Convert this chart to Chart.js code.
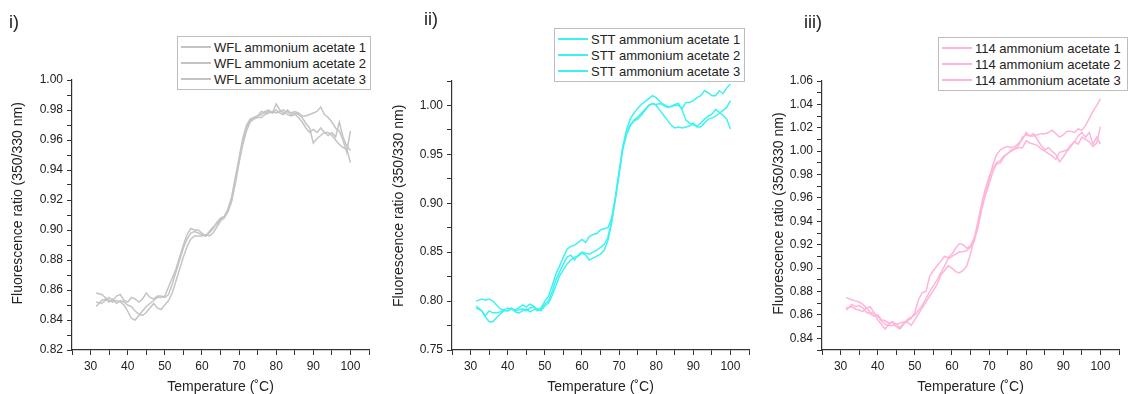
<!DOCTYPE html>
<html>
<head>
<meta charset="utf-8">
<script src="https://cdn.jsdelivr.net/npm/chart.js@4.4.0/dist/chart.umd.min.js"></script>
<style>
  body { margin: 0; width: 1136px; height: 394px; background: #fff; position: relative; overflow: hidden; font-family: "Liberation Sans", Arial, sans-serif; }
  .panel { position: absolute; top: 0; height: 394px; }
  .tag { position: absolute; font-size: 18px; color: #222; }
  .legend { position: absolute; border: 1px solid #bdbdbd; background: #fff; font-size: 13px; color: #222; padding: 2px 0; }
  .legend .row { display: flex; align-items: center; height: 16px; white-space: nowrap; }
  .legend .swatch { display: inline-block; width: 30px; height: 2px; margin: 0 3px 0 3px; }
</style>
</head>
<body>
<div class="panel" style="left:0;width:380px"><canvas id="c1" width="380" height="394"></canvas></div>
<div class="panel" style="left:380px;width:380px"><canvas id="c2" width="380" height="394"></canvas></div>
<div class="panel" style="left:760px;width:376px"><canvas id="c3" width="376" height="394"></canvas></div>

<div class="tag" style="left:9px;top:12px">i)</div>
<div class="tag" style="left:424px;top:9px">ii)</div>
<div class="tag" style="left:804px;top:12px">iii)</div>

<div class="legend" id="leg1" style="left:177px;top:36px;width:192px"></div>
<div class="legend" id="leg2" style="left:554px;top:28px;width:189px"></div>
<div class="legend" id="leg3" style="left:938px;top:37px;width:188px"></div>

<script>
// temperature (°C) shared by all runs
const temps = [31.5, 33, 34, 35, 36, 37, 38, 39, 40, 41, 42, 43, 44, 45, 46, 47, 48, 49, 50,
  51, 52, 53, 54, 55, 56, 57, 58, 59, 60, 61, 62, 63, 64, 65, 66, 67, 68, 69, 70,
  71, 72, 73, 74, 75, 76, 77, 78, 79, 80, 81, 82, 83, 84, 85, 86, 87, 88, 89, 90,
  91, 92, 93, 94, 95, 96, 97, 98, 99, 100];

// i) WFL
const wfl1 = [0.858, 0.857, 0.855, 0.853, 0.852, 0.853, 0.852, 0.850, 0.846, 0.841, 0.840, 0.843, 0.846, 0.849, 0.851, 0.853, 0.855, 0.855, 0.856,
  0.862, 0.868, 0.874, 0.882, 0.890, 0.897, 0.901, 0.900, 0.900, 0.898, 0.896, 0.898, 0.901, 0.905, 0.908, 0.909, 0.914, 0.922, 0.935, 0.948,
  0.961, 0.970, 0.974, 0.975, 0.976, 0.979, 0.978, 0.979, 0.978, 0.984, 0.980, 0.978, 0.979, 0.977, 0.978, 0.977, 0.975, 0.971, 0.968, 0.958,
  0.961, 0.963, 0.965, 0.965, 0.963, 0.960, 0.957, 0.955, 0.954, 0.945];
const wfl2 = [0.849, 0.853, 0.854, 0.852, 0.854, 0.851, 0.853, 0.852, 0.850, 0.849, 0.846, 0.844, 0.843, 0.845, 0.848, 0.851, 0.848, 0.847, 0.850,
  0.853, 0.858, 0.866, 0.874, 0.882, 0.889, 0.894, 0.896, 0.896, 0.896, 0.897, 0.896, 0.898, 0.902, 0.906, 0.908, 0.912, 0.919, 0.931, 0.945,
  0.957, 0.966, 0.972, 0.974, 0.975, 0.975, 0.977, 0.978, 0.979, 0.978, 0.979, 0.980, 0.977, 0.976, 0.977, 0.975, 0.972, 0.968, 0.965, 0.967,
  0.965, 0.968, 0.965, 0.963, 0.965, 0.962, 0.972, 0.962, 0.956, 0.953];
const wfl3 = [0.852, 0.851, 0.853, 0.855, 0.853, 0.856, 0.857, 0.853, 0.852, 0.855, 0.854, 0.852, 0.854, 0.858, 0.855, 0.854, 0.856, 0.856, 0.855,
  0.857, 0.864, 0.872, 0.880, 0.888, 0.894, 0.898, 0.899, 0.898, 0.897, 0.896, 0.899, 0.902, 0.904, 0.907, 0.909, 0.913, 0.920, 0.933, 0.946,
  0.959, 0.968, 0.973, 0.975, 0.976, 0.977, 0.979, 0.980, 0.978, 0.980, 0.978, 0.977, 0.980, 0.978, 0.979, 0.978, 0.976, 0.976, 0.977, 0.978,
  0.979, 0.982, 0.977, 0.975, 0.972, 0.968, 0.966, 0.960, 0.952, 0.966];

// ii) STT
const stt1 = [0.800, 0.802, 0.801, 0.802, 0.800, 0.796, 0.792, 0.791, 0.790, 0.792, 0.791, 0.793, 0.796, 0.794, 0.797, 0.795, 0.791, 0.793, 0.800,
  0.805, 0.816, 0.828, 0.836, 0.845, 0.853, 0.856, 0.857, 0.860, 0.863, 0.860, 0.866, 0.868, 0.869, 0.873, 0.874, 0.875, 0.885, 0.905, 0.930,
  0.957, 0.975, 0.986, 0.992, 0.997, 1.001, 1.004, 1.007, 1.010, 1.008, 1.004, 1.001, 0.999, 0.999, 1.000, 1.000, 0.997, 1.003, 1.003, 1.005,
  1.008, 1.010, 1.015, 1.013, 1.010, 1.010, 1.015, 1.012, 1.018, 1.022];
const stt2 = [0.795, 0.790, 0.785, 0.790, 0.788, 0.788, 0.789, 0.791, 0.793, 0.792, 0.790, 0.791, 0.792, 0.790, 0.793, 0.794, 0.790, 0.792, 0.797,
  0.800, 0.810, 0.822, 0.830, 0.838, 0.845, 0.847, 0.842, 0.847, 0.850, 0.849, 0.848, 0.850, 0.852, 0.855, 0.858, 0.865, 0.882, 0.906, 0.932,
  0.958, 0.972, 0.980, 0.985, 0.988, 0.992, 0.996, 1.000, 1.002, 1.001, 1.002, 1.000, 0.998, 0.999, 1.001, 1.002, 0.995, 0.985, 0.982, 0.980,
  0.979, 0.982, 0.986, 0.989, 0.991, 0.996, 0.993, 0.990, 0.986, 0.976];
const stt3 = [0.793, 0.790, 0.784, 0.779, 0.779, 0.783, 0.787, 0.790, 0.790, 0.793, 0.789, 0.788, 0.790, 0.792, 0.789, 0.791, 0.792, 0.790, 0.795,
  0.798, 0.806, 0.816, 0.826, 0.832, 0.838, 0.842, 0.845, 0.846, 0.849, 0.847, 0.842, 0.844, 0.846, 0.848, 0.852, 0.862, 0.880, 0.904, 0.930,
  0.955, 0.970, 0.979, 0.984, 0.986, 0.990, 0.995, 1.000, 1.002, 1.000, 0.995, 0.990, 0.985, 0.980, 0.977, 0.978, 0.977, 0.978, 0.979, 0.982,
  0.978, 0.978, 0.982, 0.986, 0.987, 0.989, 0.992, 0.995, 0.998, 1.005];

// iii) 114
const p114a = [0.875, 0.873, 0.872, 0.871, 0.869, 0.866, 0.862, 0.861, 0.859, 0.855, 0.852, 0.851, 0.851, 0.852, 0.853, 0.854, 0.855, 0.857, 0.862,
  0.873, 0.879, 0.880, 0.893, 0.898, 0.902, 0.906, 0.910, 0.909, 0.912, 0.917, 0.921, 0.920, 0.917, 0.919, 0.926, 0.935, 0.953, 0.965, 0.975,
  0.988, 0.997, 1.001, 1.003, 1.004, 1.003, 1.004, 1.007, 1.010, 1.016, 1.013, 1.013, 1.014, 1.015, 1.015, 1.016, 1.018, 1.015, 1.012, 1.014,
  1.017, 1.017, 1.016, 1.019, 1.018, 1.022, 1.028, 1.034, 1.039, 1.045];
const p114b = [0.866, 0.867, 0.865, 0.864, 0.863, 0.866, 0.867, 0.862, 0.856, 0.852, 0.848, 0.852, 0.854, 0.850, 0.848, 0.852, 0.856, 0.858, 0.860,
  0.864, 0.868, 0.874, 0.880, 0.885, 0.890, 0.896, 0.902, 0.908, 0.910, 0.912, 0.914, 0.914, 0.915, 0.918, 0.923, 0.935, 0.950, 0.962, 0.972,
  0.982, 0.989, 0.990, 0.995, 0.998, 1.001, 1.002, 1.003, 1.003, 1.009, 1.007, 1.006, 1.005, 1.002, 1.000, 0.998, 0.996, 0.993, 0.999, 1.000,
  1.001, 1.005, 1.008, 1.006, 1.012, 1.010, 1.008, 1.004, 1.007, 1.021];
const p114c = [0.864, 0.869, 0.867, 0.868, 0.866, 0.862, 0.861, 0.859, 0.860, 0.856, 0.855, 0.853, 0.854, 0.852, 0.849, 0.853, 0.854, 0.851, 0.856,
  0.861, 0.866, 0.871, 0.876, 0.881, 0.886, 0.894, 0.898, 0.902, 0.900, 0.897, 0.896, 0.898, 0.902, 0.912, 0.925, 0.940, 0.955, 0.968, 0.978,
  0.985, 0.990, 0.992, 0.996, 0.998, 1.000, 1.002, 1.005, 1.012, 1.014, 1.013, 1.015, 1.010, 1.005, 1.001, 1.003, 1.000, 0.997, 0.991, 0.995,
  1.000, 1.004, 1.008, 1.013, 1.016, 1.012, 1.016, 1.006, 1.012, 1.006];

const panels = [
  { id: 'c1', leg: 'leg1', color: '#c4c4c4', names: ['WFL ammonium acetate 1', 'WFL ammonium acetate 2', 'WFL ammonium acetate 3'],
    series: [wfl1, wfl2, wfl3], yMin: 0.82, yMax: 1.00, yStep: 0.01, yLabelEvery: 20,
    yWidth: 72, pad: { left: 0, top: 80, right: 11, bottom: 0 }, yTitlePad: 11, lead: '      ' },
  { id: 'c2', leg: 'leg2', color: '#3ff2f2', names: ['STT ammonium acetate 1', 'STT ammonium acetate 2', 'STT ammonium acetate 3'],
    series: [stt1, stt2, stt3], yMin: 0.75, yMax: 1.025, yStep: 0.025, yLabelEvery: 50,
    yWidth: 72, pad: { left: 0, top: 81, right: 11, bottom: 0 }, yTitlePad: 12, lead: '     ' },
  { id: 'c3', leg: 'leg3', color: '#ffb5da', names: ['114 ammonium acetate 1', '114 ammonium acetate 2', '114 ammonium acetate 3'],
    series: [p114a, p114b, p114c], yMin: 0.83, yMax: 1.06, yStep: 0.01, yLabelEvery: 20,
    yWidth: 62, pad: { left: 0, top: 81, right: 17, bottom: 0 }, yTitlePad: 12, lead: ' ' }
];

const axisColor = '#333';
const tickFont = { family: 'Liberation Sans', size: 12 };
const titleFont = { family: 'Liberation Sans', size: 14, lineHeight: 1 };

panels.forEach(p => {
  // legend box
  const leg = document.getElementById(p.leg);
  p.names.forEach(n => {
    const row = document.createElement('div');
    row.className = 'row';
    row.innerHTML = '<span class="swatch" style="background:' + p.color + '"></span><span>' + n + '</span>';
    leg.appendChild(row);
  });

  new Chart(document.getElementById(p.id).getContext('2d'), {
    type: 'line',
    data: {
      datasets: p.series.map((s, i) => ({
        label: p.names[i],
        data: temps.map((t, j) => ({ x: t, y: s[j] })),
        borderColor: p.color,
        borderWidth: 1.5,
        pointRadius: 0,
        tension: 0,
        fill: false
      }))
    },
    options: {
      responsive: false,
      animation: false,
      layout: { padding: p.pad },
      plugins: { legend: { display: false }, tooltip: { enabled: false } },
      scales: {
        x: {
          type: 'linear',
          min: 25,
          max: 105,
          afterFit: scale => { scale.height = 44; },
          border: { display: true, color: axisColor, width: 1.2 },
          grid: { drawOnChartArea: false, drawTicks: true, tickLength: 5, color: axisColor },
          ticks: {
            stepSize: 5,
            autoSkip: false,
            maxRotation: 0,
            padding: 4,
            color: '#222',
            font: tickFont,
            callback: v => (v % 10 === 0 && v >= 30 && v <= 100) ? String(v) : ''
          },
          title: { display: true, text: 'Temperature (˚C)', color: '#222', font: titleFont, padding: { top: 0, bottom: 0 } }
        },
        y: {
          min: p.yMin,
          max: p.yMax,
          afterFit: scale => { scale.width = p.yWidth; },
          border: { display: true, color: axisColor, width: 1.2 },
          grid: { drawOnChartArea: false, drawTicks: true, tickLength: 5, color: axisColor },
          ticks: {
            stepSize: p.yStep,
            autoSkip: false,
            padding: 4,
            color: '#222',
            font: tickFont,
            callback: v => (Math.round(v * 1000) % p.yLabelEvery === 0) ? v.toFixed(2) : ''
          },
          title: { display: true, text: p.lead + 'Fluorescence ratio (350/330 nm)', color: '#222', font: titleFont, padding: { top: p.yTitlePad, bottom: 0 } }
        }
      }
    }
  });
});
</script>
</body>
</html>
